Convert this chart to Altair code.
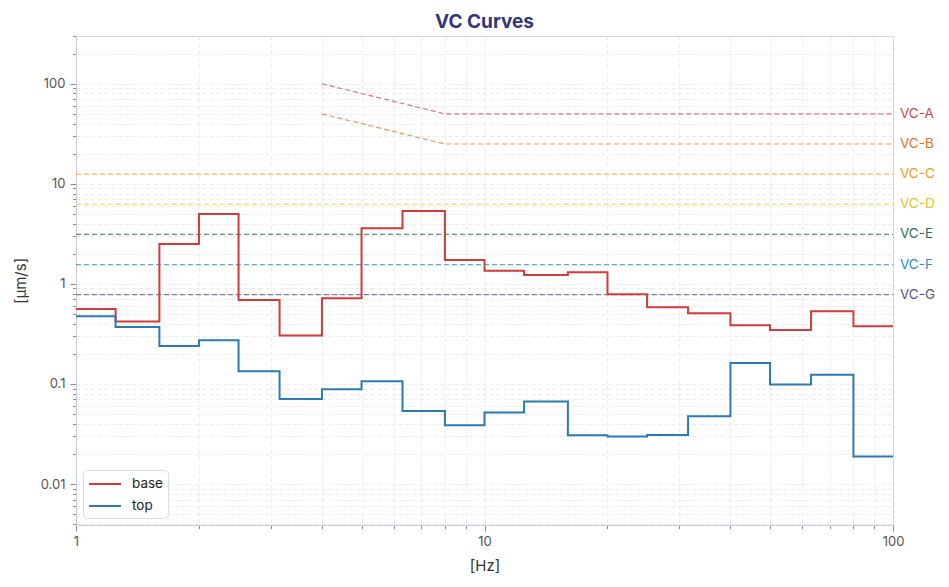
import altair as alt
import pandas as pd

# 1/3-octave band edges [Hz]
band_edges = [1, 1.25, 1.6, 2, 2.5, 3.15, 4, 5, 6.3, 8, 10, 12.5, 16, 20, 25, 31.5, 40, 50, 63, 80, 100]
# band levels [µm/s]
base_vals = [0.56, 0.42, 2.5, 5.0, 0.69, 0.306, 0.72, 3.6, 5.35, 1.73, 1.35, 1.23, 1.31, 0.79,
             0.585, 0.51, 0.386, 0.347, 0.533, 0.377]
top_vals = [0.475, 0.372, 0.24, 0.273, 0.134, 0.0708, 0.0886, 0.1067, 0.0537, 0.0387, 0.052,
            0.0668, 0.0307, 0.0299, 0.031, 0.0477, 0.162, 0.099, 0.124, 0.0189]

# VC criterion curves
vc_names = ["VC-A", "VC-B", "VC-C", "VC-D", "VC-E", "VC-F", "VC-G"]
vc_freqs = [[4, 8, 100], [4, 8, 100], [1, 100], [1, 100], [1, 100], [1, 100], [1, 100]]
vc_vals = [[100, 50, 50], [50, 25, 25], [12.5, 12.5], [6.25, 6.25], [3.12, 3.12], [1.56, 1.56], [0.78, 0.78]]
vc_colors = ["#c9474b", "#e0712a", "#ee9d26", "#d6c624", "#2f6b55", "#2f89c6", "#5a5577"]

x_major = [1, 10, 100]
y_major = [0.01, 0.1, 1, 10, 100]
x_ticks = sorted(set(x_major + [m * 10 ** e for e in range(0, 2) for m in range(2, 10)]))
y_ticks = sorted(set(y_major + [m * 10.0 ** e for e in range(-3, 3) for m in range(2, 10)
                                if 0.0039 <= m * 10.0 ** e <= 300]))

rows = []
for name, vals in (("base", base_vals), ("top", top_vals)):
    for f, v in zip(band_edges, vals + [vals[-1]]):
        rows.append({"freq": f, "val": v, "series": name})
meas = pd.DataFrame(rows)

vc_rows = []
lab_rows = []
for n, fs, vs, c in zip(vc_names, vc_freqs, vc_vals, vc_colors):
    for f, v in zip(fs, vs):
        vc_rows.append({"freq": f, "val": v, "curve": n, "color": c})
    lab_rows.append({"freq": fs[-1], "val": vs[-1], "curve": n, "color": c})
vc = pd.DataFrame(vc_rows)
labs = pd.DataFrame(lab_rows)

FONT = "Inter"
is_major = "abs(log(datum.value)/LN10 - round(log(datum.value)/LN10)) < 1e-6"

x_scale = alt.Scale(type="log", domain=[1, 100], nice=False)
y_scale = alt.Scale(type="log", domain=[0.0039, 300], nice=False)

x_axis = alt.Axis(
    values=x_ticks, title="[Hz]",
    labelExpr=f"{is_major} ? format(datum.value, '~g') : ''",
    tickSize={"condition": {"test": is_major, "value": 6}, "value": 3.5},
    grid=True, gridDash=[4, 3], gridColor="#e4e4ec", gridWidth=0.8,
    domainColor="#c9c9da", tickColor="#8a8aa0", labelColor="#555555",
    labelFontSize=13, labelFont=FONT, titleFont=FONT, titleFontSize=15,
    titleFontWeight="normal", titleColor="#333333", labelPadding=4, titlePadding=10,
    labelFlush=False, labelOverlap=False,
)
y_axis = alt.Axis(
    values=y_ticks, title="[µm/s]",
    labelExpr=f"{is_major} ? format(datum.value, '~g') : ''",
    tickSize={"condition": {"test": is_major, "value": 6}, "value": 3.5},
    grid=True, gridDash=[4, 3], gridColor="#e4e4ec", gridWidth=0.8,
    domainColor="#c9c9da", tickColor="#8a8aa0", labelColor="#555555",
    labelFontSize=13, labelFont=FONT, titleFont=FONT, titleFontSize=15,
    titleFontWeight="normal", titleColor="#333333", labelPadding=5, titlePadding=12,
    labelOverlap=False,
)

vc_lines = alt.Chart(vc).mark_line(strokeDash=[5, 3], strokeWidth=1.2, opacity=0.75).encode(
    x=alt.X("freq:Q", scale=x_scale, axis=x_axis),
    y=alt.Y("val:Q", scale=y_scale, axis=y_axis),
    stroke=alt.Stroke("color:N", scale=None),
    detail="curve:N",
)

vc_text = alt.Chart(labs).mark_text(align="left", baseline="middle", dx=7, fontSize=13.5, font=FONT).encode(
    x=alt.X("freq:Q", scale=x_scale),
    y=alt.Y("val:Q", scale=y_scale),
    text="curve:N",
    fill=alt.Fill("color:N", scale=None),
)

steps = alt.Chart(meas).mark_line(interpolate="step-after", strokeWidth=2).encode(
    x=alt.X("freq:Q", scale=x_scale),
    y=alt.Y("val:Q", scale=y_scale),
    color=alt.Color(
        "series:N",
        scale=alt.Scale(domain=["base", "top"], range=["#d13b3b", "#2b7bb3"]),
        legend=alt.Legend(
            title=None, orient="bottom-left", offset=7, symbolType="M-1,0L3,0",
            symbolStrokeWidth=2, symbolSize=256, labelFontSize=13.5, labelFont=FONT,
            labelColor="#222222", strokeColor="#dcdcdc", fillColor="white",
            cornerRadius=4, padding=5, rowPadding=6, labelOffset=26,
        ),
    ),
)

chart = alt.layer(vc_lines, steps, vc_text).properties(
    width=817, height=489,
    title=alt.TitleParams("VC Curves", font=FONT, fontSize=19, fontWeight="bold",
                          color="#35357a", offset=-2),
    background="white",
).configure_view(stroke="#c9c9da", strokeWidth=1)

chart.save("out.html", embed_options={"renderer": "svg", "actions": False})
